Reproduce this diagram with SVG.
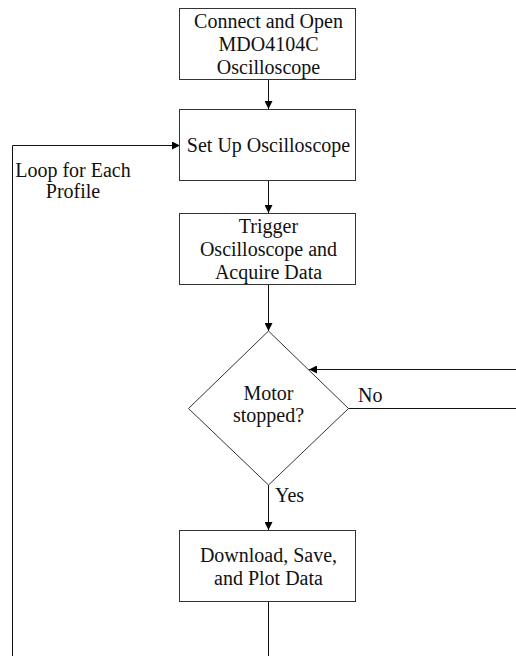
<svg xmlns="http://www.w3.org/2000/svg" width="516" height="656" viewBox="0 0 516 656">
  <style>
    .box { fill: #ffffff; stroke: #333333; stroke-width: 1; }
    .lbl { font-family: "Liberation Serif", "Times New Roman", serif; font-size: 20px; fill: #111111; text-anchor: middle; }
    .side { font-family: "Liberation Serif", "Times New Roman", serif; font-size: 20px; fill: #111111; }
    .wire { fill: none; stroke: #111111; stroke-width: 1; }
  </style>
  <defs>
    <marker id="arrow" viewBox="0 0 10 10" refX="10" refY="5" markerWidth="9" markerHeight="8" markerUnits="userSpaceOnUse" orient="auto">
      <path d="M0,0 L10,5 L0,10 Z" fill="#000000"/>
    </marker>
  </defs>
  <rect width="516" height="656" fill="#ffffff"/>

  <g id="connectors">
    <line class="wire" x1="268.5" y1="80" x2="268.5" y2="109" marker-end="url(#arrow)"/>
    <line class="wire" x1="268.5" y1="181" x2="268.5" y2="213" marker-end="url(#arrow)"/>
    <line class="wire" x1="268.5" y1="285" x2="268.5" y2="331" marker-end="url(#arrow)"/>
    <line class="wire" x1="268.5" y1="485" x2="268.5" y2="530" marker-end="url(#arrow)"/>
    <line class="wire" x1="348.5" y1="408.5" x2="516" y2="408.5"/>
    <line class="wire" x1="516" y1="369.5" x2="309" y2="369.5" marker-end="url(#arrow)"/>
    <polyline class="wire" points="268.5,602 268.5,656"/>
    <polyline class="wire" points="12.5,656 12.5,145.5 180,145.5" marker-end="url(#arrow)"/>
    <text class="side" x="358" y="402">No</text>
    <text class="side" x="275" y="502">Yes</text>
    <text class="lbl" x="73" y="177">Loop for Each</text>
    <text class="lbl" x="73" y="198">Profile</text>
  </g>

  <g id="connect-open">
    <rect class="box" x="179.5" y="8.5" width="176" height="71"/>
    <text class="lbl" x="268.5" y="28">Connect and Open</text>
    <text class="lbl" x="268.5" y="51">MDO4104C</text>
    <text class="lbl" x="268.5" y="74">Oscilloscope</text>
  </g>

  <g id="set-up">
    <rect class="box" x="179.5" y="109.5" width="176" height="71"/>
    <text class="lbl" x="268.5" y="152">Set Up Oscilloscope</text>
  </g>

  <g id="trigger">
    <rect class="box" x="179.5" y="213.5" width="176" height="71"/>
    <text class="lbl" x="268.5" y="233">Trigger</text>
    <text class="lbl" x="268.5" y="256">Oscilloscope and</text>
    <text class="lbl" x="268.5" y="279">Acquire Data</text>
  </g>

  <g id="motor-stopped">
    <polygon class="box" points="268.5,331 348.5,408.5 268.5,485 188.5,408.5"/>
    <text class="lbl" x="268.5" y="400">Motor</text>
    <text class="lbl" x="268.5" y="422">stopped?</text>
  </g>

  <g id="download">
    <rect class="box" x="179.5" y="530.5" width="176" height="71"/>
    <text class="lbl" x="268.5" y="562">Download, Save,</text>
    <text class="lbl" x="268.5" y="585">and Plot Data</text>
  </g>
</svg>
